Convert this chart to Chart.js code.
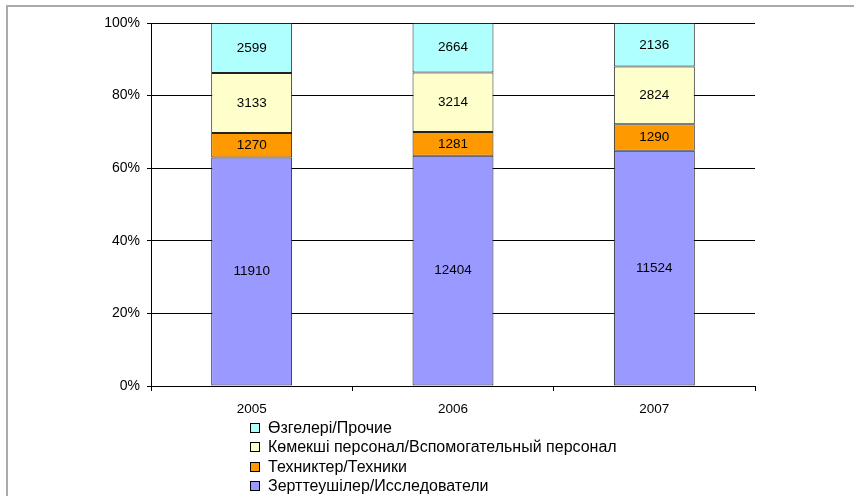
<!DOCTYPE html>
<html>
<head>
<meta charset="utf-8">
<script src="https://cdn.jsdelivr.net/npm/chart.js@4/dist/chart.umd.min.js"></script>
<style>
    body { margin: 0; background: #fff; overflow: hidden; }
    #wrap { position: relative; width: 854px; height: 496px; }
    #frame { position: absolute; left: 6px; top: 5px; width: 900px; height: 600px;
             border-left: 2px solid #aaa; border-top: 2px solid #aaa; }
    #legend { position: absolute; left: 250px; top: 418px; font: 16px "Liberation Sans", Arial, sans-serif; color: #000; }
    #legend div { height: 19.3px; line-height: 19.3px; white-space: nowrap; }
    #legend span { display: inline-block; width: 8px; height: 8px; border: 1px solid #000; margin-right: 8px; vertical-align: 0px; }
</style>
</head>
<body>
<div id="wrap">
    <div id="frame"></div>
    <canvas id="myChart" width="854" height="496"></canvas>
    <div id="legend"></div>
</div>
<script>
// years on the x axis
var years = ['2005', '2006', '2007'];

// series, bottom of the stack first
var issledovateli = [11910, 12404, 11524];
var tehniki = [1270, 1281, 1290];
var vspomogatelny = [3133, 3214, 2824];
var prochie = [2599, 2664, 2136];

var seriesNames = [
    'Зерттеушілер/Исследователи',
    'Техниктер/Техники',
    'Көмекші персонал/Вспомогательный персонал',
    'Өзгелері/Прочие'
];
var seriesColors = ['#9999ff', '#ff9900', '#ffffcc', '#b0ffff'];

var yTicks = [0, 20, 40, 60, 80, 100];

var allSeries = [issledovateli, tehniki, vspomogatelny, prochie];
var totals = years.map(function (y, i) {
    var s = 0;
    allSeries.forEach(function (arr) { s += arr[i]; });
    return s;
});

var datasets = allSeries.map(function (arr, k) {
    return {
        label: seriesNames[k],
        raw: arr,
        data: arr.map(function (v, i) { return v / totals[i] * 100; }),
        backgroundColor: seriesColors[k],
        borderColor: '#222',
        borderWidth: 1,
        borderSkipped: false,
        categoryPercentage: 1,
        barPercentage: 0.402
    };
});

var FONT = '"Liberation Sans", Arial, sans-serif';

// labels in the middle of every segment
var valueLabels = {
    id: 'valueLabels',
    afterDatasetsDraw(chart) {
        var ctx = chart.ctx;
        ctx.save();
        ctx.font = '13.5px ' + FONT;
        ctx.fillStyle = '#000';
        ctx.textAlign = 'center';
        ctx.textBaseline = 'middle';
        chart.data.datasets.forEach(function (ds, di) {
            var meta = chart.getDatasetMeta(di);
            meta.data.forEach(function (bar, i) {
                ctx.fillText(ds.raw[i], bar.x, (bar.y + bar.base) / 2);
            });
        });
        ctx.restore();
    }
};

var ctx = document.getElementById('myChart').getContext('2d');
var myChart = new Chart(ctx, {
    type: 'bar',
    data: { labels: years, datasets: datasets },
    options: {
        responsive: false,
        animation: false,
        devicePixelRatio: 1,
        layout: { padding: { top: 23, right: 99, bottom: 0, left: 0 } },
        plugins: {
            legend: { display: false },
            tooltip: { enabled: false }
        },
        scales: {
            x: {
                stacked: true,
                grid: { drawOnChartArea: false, drawTicks: true, tickLength: 5, color: '#000', offset: true },
                border: { color: '#000' },
                ticks: { color: '#000', font: { family: FONT, size: 13.5 }, padding: 10 },
                afterFit: function (scale) { scale.height = 110; }
            },
            y: {
                stacked: true,
                min: 0,
                max: 100,
                afterBuildTicks: function (scale) {
                    scale.ticks = yTicks.map(function (v) { return { value: v }; });
                },
                grid: { color: '#000', tickLength: 4 },
                border: { color: '#000' },
                ticks: {
                    color: '#000',
                    font: { family: FONT, size: 14 },
                    padding: 7,
                    callback: function (v) { return v + '%'; }
                },
                afterFit: function (scale) { scale.width = 151; }
            }
        }
    },
    plugins: [valueLabels]
});

// legend, top of the stack first
var legend = document.getElementById('legend');
for (var k = datasets.length - 1; k >= 0; k--) {
    var row = document.createElement('div');
    var box = document.createElement('span');
    box.style.background = seriesColors[k];
    row.appendChild(box);
    row.appendChild(document.createTextNode(seriesNames[k]));
    legend.appendChild(row);
}
</script>
</body>
</html>
